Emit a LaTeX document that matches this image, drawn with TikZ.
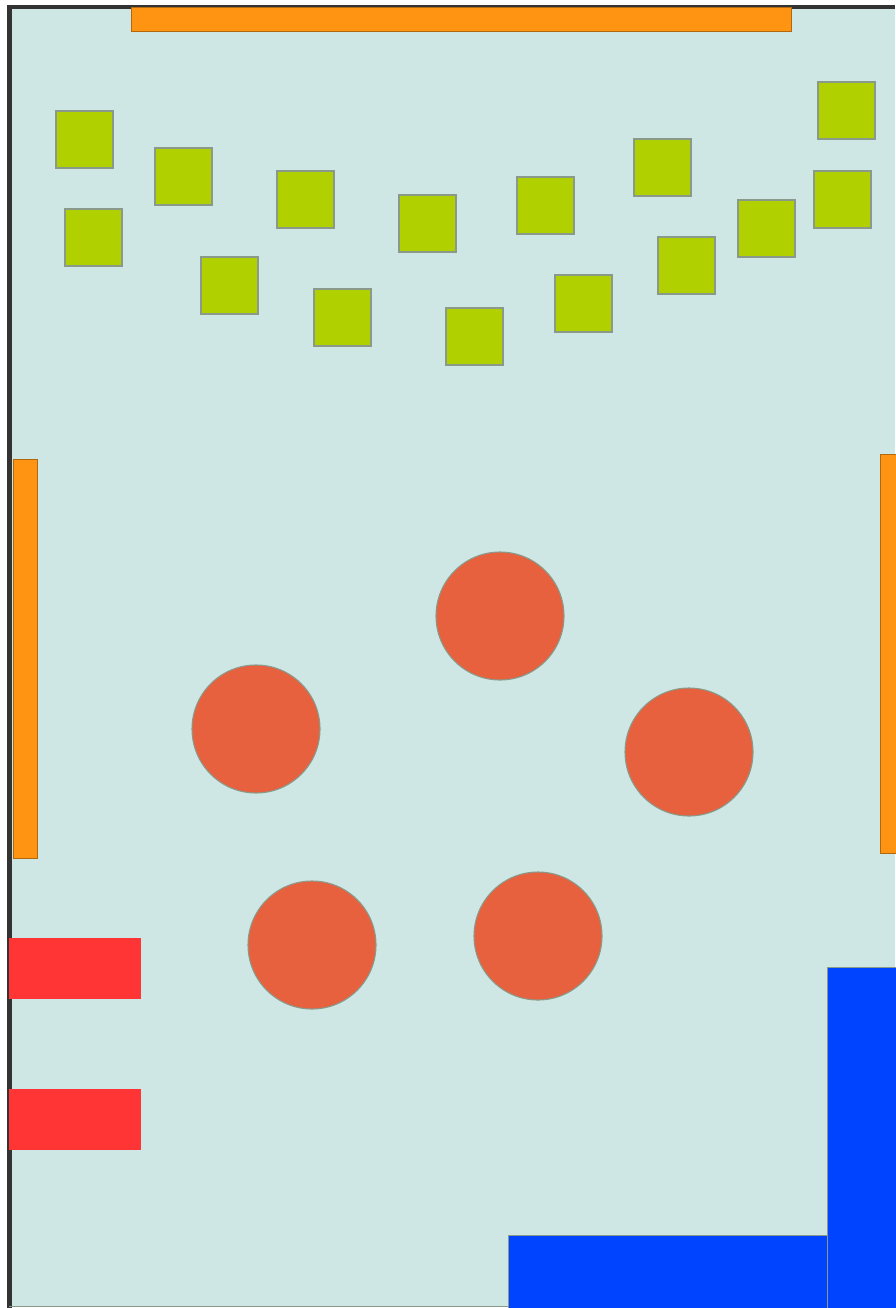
\documentclass[tikz,border=0pt]{standalone}
\definecolor{floor}{HTML}{CFE7E4}
\definecolor{wall}{HTML}{333333}
\definecolor{bench}{HTML}{FF9412}
\definecolor{seat}{HTML}{B0D000}
\definecolor{tbl}{HTML}{E8613E}
\definecolor{redbox}{HTML}{FF3535}
\definecolor{bluebox}{HTML}{0044FF}
\definecolor{edge}{HTML}{8A9A8A}
\tikzset{
  benchbar/.style={fill=bench, draw=bench!70!black, line width=0.6pt},
  seatbox/.style={fill=seat, draw=edge, line width=0.8pt},
  tablecirc/.style={fill=tbl, draw=edge, line width=0.8pt},
  redblock/.style={fill=redbox, draw=none},
  blueblock/.style={fill=bluebox, draw=edge, line width=0.6pt},
}
\begin{document}
\begin{tikzpicture}[x=0.75pt,y=-0.75pt]
\useasboundingbox (0,0) rectangle (895,1308);
\fill[white] (0,0) rectangle (895,1308);
% floor
\fill[floor] (9,7) rectangle (895,1306);
% walls
\fill[wall] (7,5) rectangle (12,1308);
\fill[wall] (7,5) rectangle (895,9);
\draw[edge, line width=1.2pt] (9,1306.5) -- (895,1306.5);
% orange benches
\draw[benchbar] (131,7) rectangle (791,31);
\draw[benchbar] (13,459) rectangle (37,858);
\draw[benchbar] (880,454) rectangle (897,853);
% green seats
\foreach \x/\y [count=\i] in {56/111,65/209,155/148,201/257,277/171,314/289,399/195,446/308,517/177,555/275,634/139,658/237,738/200,818/82,814/171}
  \draw[seatbox] (\x,\y) rectangle ++(57,57) coordinate (s\i);
% round tables
\foreach \x/\y [count=\i] in {500/616,256/729,689/752,312/945,538/936}
  \draw[tablecirc] (\x,\y) circle[radius=64*0.75pt] coordinate (t\i);
% red blocks
\fill[redblock] (9,938) rectangle (141,999);
\fill[redblock] (9,1089) rectangle (141,1150);
% blue blocks
\draw[blueblock] (508,1235) rectangle (827,1310);
\draw[blueblock] (827,967) rectangle (897,1310);
\end{tikzpicture}
\end{document}
